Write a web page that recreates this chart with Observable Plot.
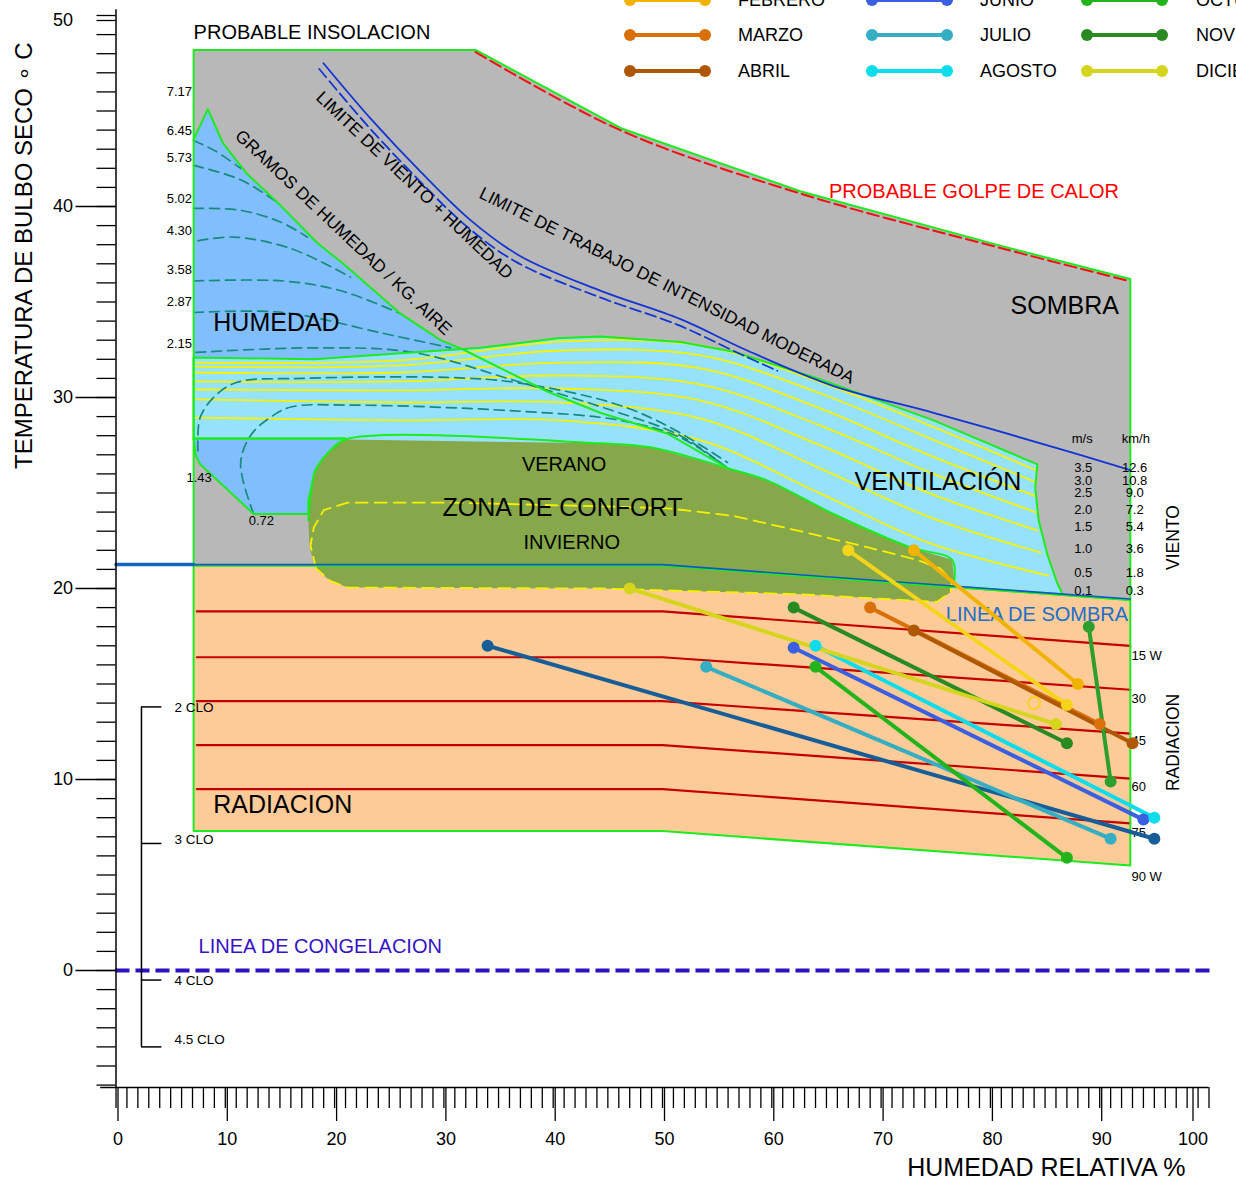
<!DOCTYPE html>
<html><head><meta charset="utf-8">
<script src="https://cdn.jsdelivr.net/npm/d3@7"></script>
<script src="https://cdn.jsdelivr.net/npm/@observablehq/plot@0.6"></script>
<style>
body{margin:0;background:#fff;overflow:hidden;font-family:"Liberation Sans",Arial,sans-serif}
#wrap{position:relative;width:1236px;height:1183px;overflow:hidden}
#legend{position:absolute;left:0;top:0}
</style></head><body><div id="wrap"><div id="chart"></div><svg id="legend" width="1236" height="100"></svg></div>
<script>
// ---------- climate data (one segment per month: [RH min, T max] -> [RH max, T min]) ----------
const months = ["ENERO","FEBRERO","MARZO","ABRIL","MAYO","JUNIO","JULIO","AGOSTO","SEPTIEMBRE","OCTUBRE","NOVIEMBRE","DICIEMBRE"];
const monthColors = ["#F6D41C","#F2B300","#D9700A","#AE5806","#175E99","#3A5FE0","#35ADC2","#0CDCEC","#2E9E2E","#23B41C","#2A8A22","#D5D51E"];
const rhLow  = [67, 73, 69, 73, 34, 62, 54, 64, 89, 64, 62, 47];
const tHigh  = [22, 22, 19, 17.8, 17, 16.9, 15.9, 17, 18, 15.9, 19, 20];
const rhHigh = [87, 88, 90, 93, 95, 94, 91, 95, 91, 87, 87, 86];
const tLow   = [13.9, 15, 12.9, 11.9, 6.9, 7.9, 6.9, 8, 9.9, 5.9, 11.9, 12.9];
const ringPoint = [[84, 14]];

// ---------- bioclimatic chart zones [RH %, T °C] ----------
const sombraRegion = [[7.1,48.2],[32.9,48.2],[46.2,44.1],[62.6,40.8],[80.9,37.95],[92.8,36.2],[92.8,19.4],[50,21.2],[7.1,21.2]];
const heatLine = [[32.9,48.2],[46.2,44.1],[62.6,40.8],[80.9,37.95],[92.8,36.2]];
const radiationRegion = [[7.1,21.2],[50,21.2],[92.8,19.4],[92.8,5.5],[50,7.3],[7.1,7.3]];
const radLeftT  = [18.8, 16.4, 14.1, 11.8, 9.5];
const radRightT = [17.0, 14.7, 12.4, 10.05, 7.7];
const radLabels = ["15 W","30","45","60","75","90 W"];
const radLabelT = [16.5, 14.2, 12.0, 9.6, 7.2, 4.9];
const ventRegion = [[7.1,32.1],[18.1,32.0],[33.35,32.6],[40.4,33.1],[44.3,33.2],[51.65,32.9],[56.5,32.4],[64.2,31.0],[74.8,28.8],[84.3,26.5],[84.1,25.3],[84.4,23.6],[85.2,21.8],[86.1,20.3],[86.6,19.7],[50,21.2],[21,21.2],[21,27.85],[7.1,27.85]];
const windLines = [
  [[7.3,31.83],[26,31.94],[40.7,32.93],[53.5,32.72],[64.45,30.79],[74.5,28.53],[84.2,26.18]],
  [[7.3,31.62],[26,31.68],[40.7,32.46],[53.5,32.2],[64.45,30.21],[74.5,27.85],[84.2,25.55]],
  [[7.3,31.31],[26,31.31],[40.7,31.83],[53.5,31.52],[64.45,29.42],[74.5,26.96],[84.2,24.82]],
  [[7.3,30.84],[26,30.84],[40.7,31.15],[53.5,30.68],[64.45,28.53],[74.5,26.07],[84.2,23.98]],
  [[7.3,30.42],[26,30.37],[40.7,30.47],[53.5,29.84],[64.45,27.49],[74.5,24.97],[84.3,23.04]],
  [[7.3,29.9],[26,29.74],[40.7,29.74],[53.5,28.9],[64.45,26.28],[74.5,23.72],[84.6,21.88]],
  [[7.3,28.95],[26,28.8],[40.7,28.8],[53.5,27.75],[64.45,24.97],[74.5,22.36],[85.3,20.68]]
];
const windMs  = ["3.5","3.0","2.5","2.0","1.5","1.0","0.5","0.1"];
const windKmh = ["12.6","10.8","9.0","7.2","5.4","3.6","1.8","0.3"];
const windLabelT = [26.34, 25.65, 25.03, 24.14, 23.25, 22.09, 20.84, 19.9];
const humidRegion = [[7.1,32.1],[7.1,43.5],[8.4,45.1],[9.8,43.3],[12.0,41.7],[14.8,40.2],[18.4,38.1],[20.8,37.0],[23.0,35.9],[26.0,34.4],[29.7,33.0],[31.8,32.5],[18.1,32.0]];
const humidBoundary = [[7.1,43.5],[8.4,45.1],[9.8,43.3],[12.0,41.7],[14.8,40.2],[18.4,38.1],[20.8,37.0],[23.0,35.9],[26.0,34.4],[29.7,33.0],[31.8,32.5],[39.5,30.3],[44.3,29.2],[50.5,28.1],[55.95,26.3]];
const humidLower = [[7.1,27.85],[7.3,26.96],[7.7,26.5],[12.6,23.9],[17.6,23.9],[17.6,24.6],[18.25,26.2],[19.4,27.1],[21,27.85]];
const gramLines = [
  [[7.1,43.46],[9.1,42.9],[11.4,42.0]],
  [[7.1,42.15],[11.4,41.4],[14.8,40.2]],
  [[7.1,39.9],[11.4,39.8],[15.0,39.2],[17.5,38.4]],
  [[7.5,38.2],[10.75,38.4],[16.0,37.8],[21.45,36.3]],
  [[7.1,36.1],[15.3,36.1],[20.5,35.6],[26.0,34.4]],
  [[7.1,34.45],[15.3,34.45],[24.5,33.35],[30.6,32.6]],
  [[7.3,32.36],[18.1,32.6],[27.2,32.36],[36.4,30.9],[45.5,29.3],[51.65,28.0],[55.95,26.3]],
  [[7.5,27.2],[7.7,28.95],[9.1,30.1],[11.1,30.8],[16.9,31.0],[30.3,31.05],[36.4,30.8],[45.5,29.7],[50.5,28.5],[55.95,26.6]],
  [[12.6,23.9],[11.4,26.5],[12.3,28.0],[14.1,28.95],[16.0,29.5],[21.45,29.6],[36.4,29.3],[46.2,28.8],[51.65,27.9],[55.95,26.3]]
];
const gramLabels = ["7.17","6.45","5.73","5.02","4.30","3.58","2.87","2.15"];
const gramLabelT = [46.0, 43.98, 42.57, 40.42, 38.74, 36.7, 35.03, 32.83];
const gramLabelsLow = [{rh: 7.6, t: 25.8, label: "1.43"}, {rh: 13.3, t: 23.56, label: "0.72"}];
const comfortRegion = [[21.0,27.8],[44.3,27.6],[48.9,27.4],[55.95,26.3],[59.6,25.65],[65.65,23.9],[72.7,22.15],[76.5,21.5],[76.7,20.4],[76.35,19.8],[75.1,19.3],[62.6,19.7],[44.3,20.0],[21.2,20.05],[19.6,20.4],[18.5,20.9],[18.1,21.3],[17.7,22.25],[17.6,23.56],[17.8,24.9],[18.25,26.2],[19.4,27.1]];
const comfortEdge = [[17.6,23.56],[17.8,24.9],[18.25,26.2],[19.4,27.1],[21.0,27.8],[44.3,27.6],[48.9,27.4],[55.95,26.3],[59.6,25.65],[65.65,23.9],[72.7,22.15],[76.5,21.5],[76.7,20.4]];
const winterZone = [[18.3,21.05],[17.8,22.25],[18.1,23.2],[19.0,24.1],[21.2,24.5],[30.6,24.5],[44.3,24.3],[50.5,24.2],[56.5,23.8],[62.6,23.0],[68.8,22.15],[73.3,21.5],[75.4,21.05],[76.5,20.4],[76.35,19.8],[75.1,19.3],[62.6,19.7],[44.3,20.0],[21.2,20.05],[19.6,20.4]];
const windHumLimit = [[18.98,47.5],[23.3,44.6],[27.9,41.8],[32.4,39.3],[37.0,37.4],[44.3,35.6],[51.65,34.1],[57.6,32.5],[65.65,30.6],[74.8,29.2],[86.4,27.3],[92.8,26.2]];
const windHumLimitDash = [[18.6,47.2],[22.9,44.3],[27.5,41.5],[32.0,39.0],[36.6,37.1],[44.0,35.3],[51.4,33.8],[57.4,32.2],[60.5,31.4]];
const shadeLine = [[7.1,21.25],[50,21.25],[92.8,19.45]];
const shadeLineOuter = [[0,21.25],[7.1,21.25]];
const freezeT = [0];
const cloLevels = ["2 CLO","3 CLO","4 CLO","4.5 CLO"];
const cloT = [13.8, 6.65, -0.5, -4.0];
const cloLabelT = [13.75, 6.86, -0.52, -3.6];

// ---------- helpers ----------
const X = d => d[0], Y = d => d[1];
const FONT = "Liberation Sans, Arial, sans-serif";
const GREEN = "#1EEB1E";
const poly = (pts, fill, o = {}) => Plot.line(pts, {x: X, y: Y, curve: "linear-closed", fill, stroke: "none", ...o});
const multi = lines => lines.flatMap((pts, i) => pts.map(p => ({id: i, rh: p[0], t: p[1]})));
const radLines = multi(radLeftT.map((t, i) => [[7.4, t], [50, t], [92.8, radRightT[i]]]));
const monthSegments = months.flatMap((m, i) => [
  {month: m, rh: rhLow[i], t: tHigh[i]},
  {month: m, rh: rhHigh[i], t: tLow[i]}
]);
const yMin = -6.126, yMax = 50.3;

const chart = Plot.plot({
  width: 1236, height: 1183,
  marginLeft: 115.5, marginRight: 27.5, marginTop: 9.27, marginBottom: 96,
  x: {domain: [0, 100], label: null},
  y: {domain: [yMin, yMax], label: null},
  color: {domain: months, range: monthColors},
  style: {fontFamily: FONT, background: "white", overflow: "visible"},
  marks: [
    poly(sombraRegion, "#B8B8B8"),
    poly(radiationRegion, "#FDCB98"),
    Plot.line(radLines, {x: "rh", y: "t", z: "id", stroke: "#C40000", strokeWidth: 2.2}),
    poly(ventRegion, "#96E2FB"),
    Plot.line(multi(windLines), {x: "rh", y: "t", z: "id", stroke: "#F7F200", strokeWidth: 1.8, curve: "catmull-rom"}),
    poly(humidRegion, "#80BEFE"),
    poly(humidLower, "#80BEFE"),
    Plot.line(multi(gramLines), {x: "rh", y: "t", z: "id", stroke: "#168A7C", strokeWidth: 1.7, strokeDasharray: "10,6", curve: "catmull-rom"}),
    poly(ventRegion, "none", {stroke: GREEN, strokeWidth: 2}),
    Plot.line(humidBoundary, {x: X, y: Y, stroke: GREEN, strokeWidth: 2}),
    poly(humidLower, "none", {stroke: GREEN, strokeWidth: 2}),
    poly(comfortRegion, "#86A84A"),
    Plot.line(comfortEdge, {x: X, y: Y, stroke: GREEN, strokeWidth: 2, curve: "catmull-rom"}),
    Plot.line(winterZone, {x: X, y: Y, stroke: "#F8F000", strokeWidth: 1.8, strokeDasharray: "12,7", curve: "linear-closed"}),
    poly(radiationRegion, "none", {stroke: GREEN, strokeWidth: 2}),
    poly(sombraRegion, "none", {stroke: GREEN, strokeWidth: 2}),
    Plot.line(windHumLimit, {x: X, y: Y, stroke: "#1234D4", strokeWidth: 1.8, curve: "catmull-rom"}),
    Plot.line(windHumLimitDash, {x: X, y: Y, stroke: "#1234D4", strokeWidth: 1.8, strokeDasharray: "11,5", curve: "catmull-rom"}),
    Plot.line(heatLine, {x: X, y: d => d[1] - 0.12, stroke: "#F01010", strokeWidth: 2, strokeDasharray: "12,5", curve: "catmull-rom"}),
    Plot.line(shadeLine, {x: X, y: Y, stroke: "#1256C8", strokeWidth: 1.6}),
    Plot.line(shadeLineOuter, {x: X, y: Y, stroke: "#1565C0", strokeWidth: 3.5}),
    Plot.ruleY(freezeT, {x1: 0, x2: 100.2, stroke: "#2D10C0", strokeWidth: 4, strokeDasharray: "14,6"}),
    // CLO scale
    Plot.ruleX([2.33], {y1: d3.max(cloT), y2: d3.min(cloT), strokeWidth: 1.5}),
    Plot.ruleY(cloT, {x1: 2.33, x2: 4.2, strokeWidth: 1.5}),
    Plot.text(cloLabelT, {x: 5.35, y: d => d, text: (d, i) => cloLevels[i], textAnchor: "start", fontSize: 13.5}),
    // axes
    Plot.ruleX([0], {y1: yMin, y2: yMax, strokeWidth: 1.5}),
    Plot.ruleY([yMin], {x1: -1.4, x2: 100, strokeWidth: 1.5}),
    Plot.axisY({ticks: d3.range(-6, 51, 1), tickSize: 19, tickFormat: () => "", strokeWidth: 1.3}),
    Plot.axisY({ticks: [0, 10, 20, 30, 40], tickSize: 40, tickPadding: 3, fontSize: 18, strokeWidth: 1.3}),
    Plot.axisY({ticks: [50], tickSize: 19, tickPadding: 24, fontSize: 18, tickFormat: d => String(d), dy: 5, strokeWidth: 1.3}),
    Plot.axisX({ticks: d3.range(0, 101, 1), tickSize: 21, tickFormat: () => "", strokeWidth: 1.3}),
    Plot.axisX({ticks: d3.range(0, 91, 10), tickSize: 34, tickPadding: 11, fontSize: 18, dx: 2, strokeWidth: 1.3}),
    Plot.axisX({ticks: [100], tickSize: 34, tickPadding: 11, fontSize: 18, dx: -16, strokeWidth: 1.3}),
    Plot.text(["TEMPERATURA DE BULBO SECO ∘ C"], {frameAnchor: "left", text: d => d, textAnchor: "middle", lineAnchor: "middle", rotate: -90, dx: -91.5, dy: -293, fontSize: 24}),
    Plot.text(["HUMEDAD RELATIVA %"], {frameAnchor: "bottom-right", text: d => d, textAnchor: "end", lineAnchor: "middle", dx: -23.5, dy: 80, fontSize: 25}),
    // zone labels
    Plot.text([{rh: 7.1, t: 49.1, s: "PROBABLE INSOLACION"}], {x: "rh", y: "t", text: "s", textAnchor: "start", fontSize: 20}),
    Plot.text([{rh: 78.5, t: 40.8, s: "PROBABLE GOLPE DE CALOR"}], {x: "rh", y: "t", text: "s", fontSize: 20, fill: "#FF0000"}),
    Plot.text([{rh: 86.8, t: 34.8, s: "SOMBRA"}], {x: "rh", y: "t", text: "s", fontSize: 25}),
    Plot.text([{rh: 8.9, t: 33.9, s: "HUMEDAD"}], {x: "rh", y: "t", text: "s", textAnchor: "start", fontSize: 25}),
    Plot.text([{rh: 75.2, t: 25.6, s: "VENTILACIÓN"}], {x: "rh", y: "t", text: "s", fontSize: 25}),
    Plot.text([{rh: 41.0, t: 26.5, s: "VERANO"}], {x: "rh", y: "t", text: "s", fontSize: 20}),
    Plot.text([{rh: 40.85, t: 24.2, s: "ZONA DE CONFORT"}], {x: "rh", y: "t", text: "s", fontSize: 25}),
    Plot.text([{rh: 41.7, t: 22.4, s: "INVIERNO"}], {x: "rh", y: "t", text: "s", fontSize: 20}),
    Plot.text([{rh: 92.6, t: 18.64, s: "LINEA DE SOMBRA"}], {x: "rh", y: "t", text: "s", textAnchor: "end", fontSize: 20, fill: "#1A6ECC"}),
    Plot.text([{rh: 8.9, t: 8.64, s: "RADIACION"}], {x: "rh", y: "t", text: "s", textAnchor: "start", fontSize: 25}),
    Plot.text([{rh: 7.55, t: 1.26, s: "LINEA DE CONGELACION"}], {x: "rh", y: "t", text: "s", textAnchor: "start", fontSize: 20, fill: "#3414C4"}),
    Plot.text([{rh: 20.8, t: 38.64, s: "GRAMOS DE HUMEDAD / KG. AIRE"}], {x: "rh", y: "t", text: "s", rotate: 43.3, fontSize: 17.5}),
    Plot.text([{rh: 27.3, t: 41.1, s: "LIMITE DE VIENTO + HUMEDAD"}], {x: "rh", y: "t", text: "s", rotate: 43.5, fontSize: 17.5}),
    Plot.text([{rh: 50.4, t: 35.86, s: "LIMITE DE TRABAJO DE INTENSIDAD MODERADA"}], {x: "rh", y: "t", text: "s", rotate: 26.6, fontSize: 17.5}),
    Plot.text(gramLabelT, {x: 5.8, y: d => d, text: (d, i) => gramLabels[i], fontSize: 13}),
    Plot.text(gramLabelsLow, {x: "rh", y: "t", text: "label", fontSize: 13}),
    Plot.text([{rh: 88.4, t: 27.85, s: "m/s"}, {rh: 93.3, t: 27.85, s: "km/h"}], {x: "rh", y: "t", text: "s", fontSize: 13}),
    Plot.text(windLabelT, {x: 88.5, y: d => d, text: (d, i) => windMs[i], fontSize: 13}),
    Plot.text(windLabelT, {x: 93.2, y: d => d, text: (d, i) => windKmh[i], fontSize: 13}),
    Plot.text([{rh: 96.7, t: 22.67, s: "VIENTO"}, {rh: 96.7, t: 11.94, s: "RADIACION"}], {x: "rh", y: "t", text: "s", rotate: -90, fontSize: 17.5}),
    Plot.text(radLabelT, {x: 92.9, y: d => d, text: (d, i) => radLabels[i], textAnchor: "start", fontSize: 13}),
    // monthly climate segments
    Plot.line(monthSegments, {x: "rh", y: "t", z: "month", stroke: "month", strokeWidth: 4}),
    Plot.dot(monthSegments, {x: "rh", y: "t", fill: "month", r: 6}),
    Plot.dot(ringPoint, {x: X, y: Y, r: 6, stroke: "#F6D41C", strokeWidth: 2, fill: "none"})
  ]
});
document.getElementById("chart").append(chart);

// ---------- legend (top-right, partly above the page edge) ----------
const lg = d3.select("#legend").style("overflow", "visible");
const colSwatchX = [630, 872, 1087], colLabelX = [738, 980, 1196], rowY = [-36, 0, 35, 71];
months.forEach((m, i) => {
  const c = Math.floor(i / 4), r = i % 4;
  const g = lg.append("g").attr("transform", `translate(${colSwatchX[c]},${rowY[r]})`);
  g.append("line").attr("x1", 0).attr("x2", 75).attr("stroke", monthColors[i]).attr("stroke-width", 4);
  g.append("circle").attr("cx", 0).attr("r", 6).attr("fill", monthColors[i]);
  g.append("circle").attr("cx", 75).attr("r", 6).attr("fill", monthColors[i]);
  lg.append("text").attr("x", colLabelX[c]).attr("y", rowY[r]).attr("dy", "0.35em")
    .attr("font-size", 18).attr("font-family", FONT).text(m);
});
</script></body></html>
